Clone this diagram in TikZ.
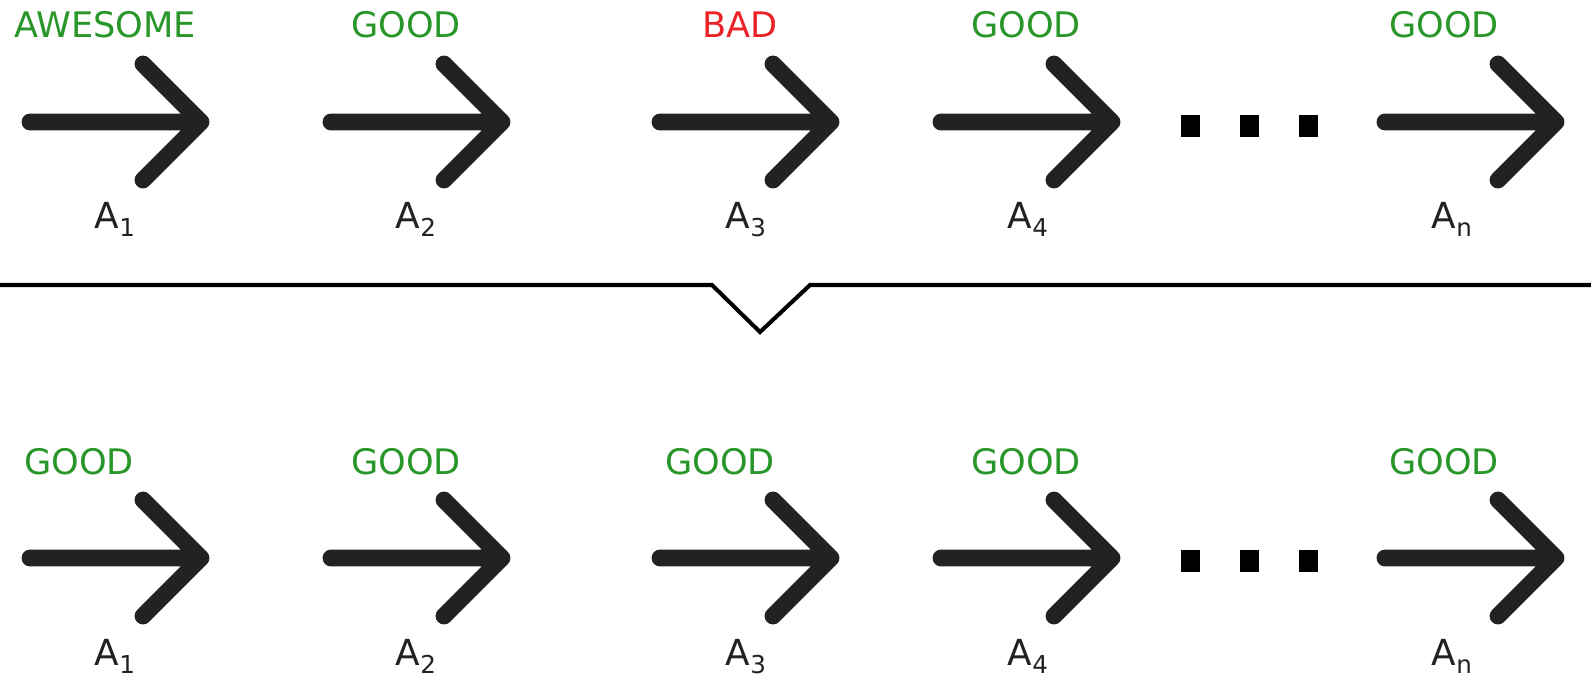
\documentclass[tikz,border=0pt]{standalone}
\usepackage{fontspec}
\setmainfont{DejaVu Sans}
\definecolor{okgreen}{RGB}{40,150,40}
\definecolor{badred}{RGB}{235,35,40}
\definecolor{ink}{RGB}{34,34,34}
\tikzset{
  arrowline/.style={draw=ink,line width=4.8pt,line cap=round,line join=round},
  bigarrow/.pic={\draw[arrowline] (0,0) -- (171,0) (113,-58) -- (171,0) -- (113,58);},
  verdict/.style={font=\fontsize{10pt}{12pt}\selectfont,anchor=base,inner sep=0pt},
  actname/.style={font=\fontsize{10.2pt}{12pt}\selectfont,anchor=base,inner sep=0pt,text=ink},
  dotbox/.style={fill=black,inner sep=0pt,minimum width=0.19cm,minimum height=0.22cm},
  divider/.style={draw=black,line width=1.15pt,line join=miter}
}
\newcommand{\lowsub}[1]{\raisebox{-0.42ex}{\fontsize{7pt}{8pt}\selectfont #1}}
\begin{document}
\begin{tikzpicture}[x=0.01cm,y=-0.01cm]
\fill[white] (0,0) rectangle (1591,675);
\useasboundingbox (0,0) rectangle (1591,675);

% upper sequence
\foreach \x [count=\i] in {30,331,660,941,1385}
  \pic (upA\i) at (\x,122) {bigarrow};
\node[verdict,text=okgreen] (upV1) at (105,37) {AWESOME};
\node[verdict,text=okgreen] (upV2) at (406,37) {GOOD};
\node[verdict,text=badred]  (upV3) at (740,37) {BAD};
\node[verdict,text=okgreen] (upV4) at (1026,37) {GOOD};
\node[verdict,text=okgreen] (upV5) at (1444,37) {GOOD};
\node[actname] (upL1) at (115,228) {A\lowsub{1}};
\node[actname] (upL2) at (416,228) {A\lowsub{2}};
\node[actname] (upL3) at (746,228) {A\lowsub{3}};
\node[actname] (upL4) at (1028,228) {A\lowsub{4}};
\node[actname] (upL5) at (1452,228) {A\lowsub{n}};
\node[dotbox] (upD1) at (1190,126) {};
\node[dotbox] (upD2) at (1249,126) {};
\node[dotbox] (upD3) at (1308,126) {};

% separator with a notch pointing down
\draw[divider] (0,285) -- (712,285) -- (760,332) -- (810,285) -- (1591,285);

% lower sequence
\foreach \x [count=\i] in {30,331,660,941,1385}
  \pic (loA\i) at (\x,558) {bigarrow};
\node[verdict,text=okgreen] (loV1) at (79,474) {GOOD};
\node[verdict,text=okgreen] (loV2) at (406,474) {GOOD};
\node[verdict,text=okgreen] (loV3) at (720,474) {GOOD};
\node[verdict,text=okgreen] (loV4) at (1026,474) {GOOD};
\node[verdict,text=okgreen] (loV5) at (1444,474) {GOOD};
\node[actname] (loL1) at (115,665) {A\lowsub{1}};
\node[actname] (loL2) at (416,665) {A\lowsub{2}};
\node[actname] (loL3) at (746,665) {A\lowsub{3}};
\node[actname] (loL4) at (1028,665) {A\lowsub{4}};
\node[actname] (loL5) at (1452,665) {A\lowsub{n}};
\node[dotbox] (loD1) at (1190,561) {};
\node[dotbox] (loD2) at (1249,561) {};
\node[dotbox] (loD3) at (1308,561) {};
\end{tikzpicture}
\end{document}
